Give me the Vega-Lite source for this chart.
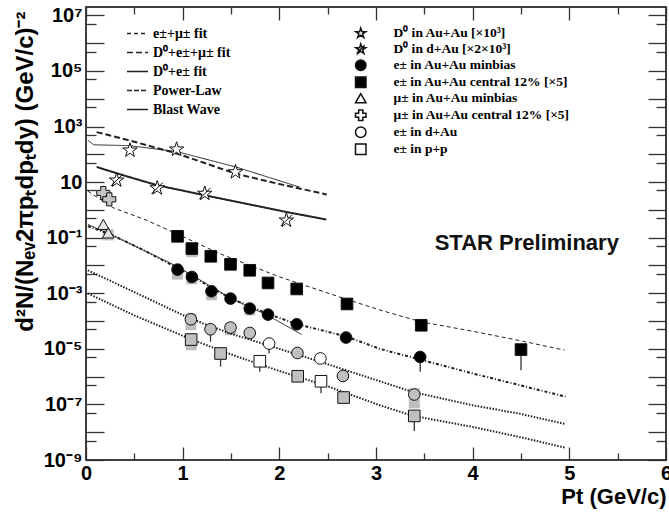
{
  "$schema": "https://vega.github.io/schema/vega-lite/v6.json",
  "width": 580,
  "height": 453,
  "autosize": {"type": "none"},
  "padding": {"left": 86, "top": 7, "right": 3, "bottom": 59},
  "background": "white",
  "datasets": {
    "points": [
      {"series": "D⁰ in Au+Au [×10³]", "pt": 0.455, "y": 139},
      {"series": "D⁰ in Au+Au [×10³]", "pt": 0.937, "y": 151},
      {"series": "D⁰ in Au+Au [×10³]", "pt": 1.546, "y": 23},
      {"series": "D⁰ in d+Au [×2×10³]", "pt": 0.317, "y": 11.6},
      {"series": "D⁰ in d+Au [×2×10³]", "pt": 0.737, "y": 6.1},
      {"series": "D⁰ in d+Au [×2×10³]", "pt": 1.229, "y": 3.86},
      {"series": "D⁰ in d+Au [×2×10³]", "pt": 2.073, "y": 0.42},
      {"series": "μ± in Au+Au central 12% [×5]", "pt": 0.179, "y": 4.06},
      {"series": "μ± in Au+Au central 12% [×5]", "pt": 0.241, "y": 2.4},
      {"series": "μ± in Au+Au minbias", "pt": 0.179, "y": 0.3},
      {"series": "μ± in Au+Au minbias", "pt": 0.23, "y": 0.148, "slo": 0.08, "shi": 0.2},
      {"series": "e± in Au+Au central 12% [×5]", "pt": 0.947, "y": 0.112},
      {"series": "e± in Au+Au central 12% [×5]", "pt": 1.095, "y": 0.0405, "slo": 0.02, "shi": 0.0405},
      {"series": "e± in Au+Au central 12% [×5]", "pt": 1.291, "y": 0.0214},
      {"series": "e± in Au+Au central 12% [×5]", "pt": 1.495, "y": 0.011},
      {"series": "e± in Au+Au central 12% [×5]", "pt": 1.694, "y": 0.00671},
      {"series": "e± in Au+Au central 12% [×5]", "pt": 1.883, "y": 0.00235},
      {"series": "e± in Au+Au central 12% [×5]", "pt": 2.18, "y": 0.00143},
      {"series": "e± in Au+Au central 12% [×5]", "pt": 2.7, "y": 0.000412},
      {"series": "e± in Au+Au central 12% [×5]", "pt": 3.468, "y": 0.0000706},
      {"series": "e± in Au+Au central 12% [×5]", "pt": 4.5, "y": 0.0000094, "lo": 0.0000017},
      {"series": "e± in Au+Au minbias", "pt": 0.947, "y": 0.0071, "slo": 0.0031, "shi": 0.0071},
      {"series": "e± in Au+Au minbias", "pt": 1.095, "y": 0.00386, "slo": 0.0021, "shi": 0.00386},
      {"series": "e± in Au+Au minbias", "pt": 1.298, "y": 0.00118, "slo": 0.00056, "shi": 0.00118},
      {"series": "e± in Au+Au minbias", "pt": 1.495, "y": 0.000644},
      {"series": "e± in Au+Au minbias", "pt": 1.694, "y": 0.000282, "slo": 0.00016, "shi": 0.000282},
      {"series": "e± in Au+Au minbias", "pt": 1.883, "y": 0.000171},
      {"series": "e± in Au+Au minbias", "pt": 2.18, "y": 0.0000767},
      {"series": "e± in Au+Au minbias", "pt": 2.69, "y": 0.0000255},
      {"series": "e± in Au+Au minbias", "pt": 3.457, "y": 0.0000051, "lo": 0.0000015},
      {"series": "e± in d+Au", "pt": 1.085, "y": 0.000116, "slo": 0.000047, "shi": 0.00019},
      {"series": "e± in d+Au", "pt": 1.288, "y": 0.0000507, "lo": 0.000018},
      {"series": "e± in d+Au", "pt": 1.495, "y": 0.0000583, "slo": 0.000031, "shi": 0.000083},
      {"series": "e± in d+Au", "pt": 1.694, "y": 0.0000373},
      {"series": "e± in d+Au", "pt": 1.894, "y": 0.0000155, "set": "b", "lo": 0.0000069},
      {"series": "e± in d+Au", "pt": 2.187, "y": 0.0000071},
      {"series": "e± in d+Au", "pt": 2.425, "y": 0.0000045, "set": "b"},
      {"series": "e± in d+Au", "pt": 2.658, "y": 0.00000106},
      {"series": "e± in d+Au", "pt": 3.396, "y": 0.000000227, "slo": 0.000000072, "shi": 0.00000038},
      {"series": "e± in p+p", "pt": 1.088, "y": 0.0000216, "slo": 0.0000089, "shi": 0.000031},
      {"series": "e± in p+p", "pt": 1.392, "y": 0.0000068, "lo": 0.0000023},
      {"series": "e± in p+p", "pt": 1.798, "y": 0.00000358, "set": "b", "lo": 0.0000015},
      {"series": "e± in p+p", "pt": 2.19, "y": 0.00000103},
      {"series": "e± in p+p", "pt": 2.431, "y": 0.00000068, "set": "b", "lo": 0.00000025},
      {"series": "e± in p+p", "pt": 2.665, "y": 0.000000177},
      {"series": "e± in p+p", "pt": 3.396, "y": 0.0000000386, "lo": 0.000000011}
    ],
    "curves": [
      {"curve": "A", "fit": "e±+μ± fit", "pt": 0.02, "y": 4.7},
      {"curve": "A", "fit": "e±+μ± fit", "pt": 0.28, "y": 1.2},
      {"curve": "A", "fit": "e±+μ± fit", "pt": 0.63, "y": 0.42},
      {"curve": "A", "fit": "e±+μ± fit", "pt": 1.0, "y": 0.11},
      {"curve": "A", "fit": "e±+μ± fit", "pt": 1.38, "y": 0.027},
      {"curve": "A", "fit": "e±+μ± fit", "pt": 2.0, "y": 0.0039},
      {"curve": "A", "fit": "e±+μ± fit", "pt": 2.7, "y": 0.0006},
      {"curve": "A", "fit": "e±+μ± fit", "pt": 3.04, "y": 0.00025},
      {"curve": "A", "fit": "e±+μ± fit", "pt": 3.47, "y": 0.000093},
      {"curve": "A", "fit": "e±+μ± fit", "pt": 4.0, "y": 0.000043},
      {"curve": "A", "fit": "e±+μ± fit", "pt": 4.48, "y": 0.00002},
      {"curve": "A", "fit": "e±+μ± fit", "pt": 4.95, "y": 0.000009},
      {"curve": "B", "fit": "D⁰+e±+μ± fit (e)", "pt": 0.02, "y": 0.26},
      {"curve": "B", "fit": "D⁰+e±+μ± fit (e)", "pt": 0.28, "y": 0.12},
      {"curve": "B", "fit": "D⁰+e±+μ± fit (e)", "pt": 0.6, "y": 0.035},
      {"curve": "B", "fit": "D⁰+e±+μ± fit (e)", "pt": 0.95, "y": 0.008},
      {"curve": "B", "fit": "D⁰+e±+μ± fit (e)", "pt": 1.3, "y": 0.0016},
      {"curve": "B", "fit": "D⁰+e±+μ± fit (e)", "pt": 1.5, "y": 0.00065},
      {"curve": "B", "fit": "D⁰+e±+μ± fit (e)", "pt": 1.9, "y": 0.00017},
      {"curve": "B", "fit": "D⁰+e±+μ± fit (e)", "pt": 2.2, "y": 0.000075},
      {"curve": "B", "fit": "D⁰+e±+μ± fit (e)", "pt": 2.69, "y": 0.000028},
      {"curve": "B", "fit": "D⁰+e±+μ± fit (e)", "pt": 3.04, "y": 0.00001},
      {"curve": "B", "fit": "D⁰+e±+μ± fit (e)", "pt": 3.47, "y": 0.000004},
      {"curve": "B", "fit": "D⁰+e±+μ± fit (e)", "pt": 4.0, "y": 0.0000013},
      {"curve": "B", "fit": "D⁰+e±+μ± fit (e)", "pt": 4.48, "y": 0.0000005},
      {"curve": "B", "fit": "D⁰+e±+μ± fit (e)", "pt": 4.96, "y": 0.00000019},
      {"curve": "C", "fit": "Blast Wave", "pt": 0.02, "y": 0.3},
      {"curve": "C", "fit": "Blast Wave", "pt": 0.3, "y": 0.11},
      {"curve": "C", "fit": "Blast Wave", "pt": 0.95, "y": 0.009},
      {"curve": "C", "fit": "Blast Wave", "pt": 1.5, "y": 0.00065},
      {"curve": "C", "fit": "Blast Wave", "pt": 1.88, "y": 0.00016},
      {"curve": "C", "fit": "Blast Wave", "pt": 2.23, "y": 0.000033},
      {"curve": "D", "fit": "D⁰+e± fit (e)", "pt": 0.02, "y": 0.0067},
      {"curve": "D", "fit": "D⁰+e± fit (e)", "pt": 0.5, "y": 0.0011},
      {"curve": "D", "fit": "D⁰+e± fit (e)", "pt": 1.085, "y": 0.00012},
      {"curve": "D", "fit": "D⁰+e± fit (e)", "pt": 1.5, "y": 0.000035},
      {"curve": "D", "fit": "D⁰+e± fit (e)", "pt": 2.0, "y": 0.00001},
      {"curve": "D", "fit": "D⁰+e± fit (e)", "pt": 2.5, "y": 0.0000028},
      {"curve": "D", "fit": "D⁰+e± fit (e)", "pt": 3.04, "y": 0.00000068},
      {"curve": "D", "fit": "D⁰+e± fit (e)", "pt": 3.38, "y": 0.00000028},
      {"curve": "D", "fit": "D⁰+e± fit (e)", "pt": 4.0, "y": 0.000000093},
      {"curve": "D", "fit": "D⁰+e± fit (e)", "pt": 4.48, "y": 0.000000047},
      {"curve": "D", "fit": "D⁰+e± fit (e)", "pt": 4.95, "y": 0.00000002},
      {"curve": "P", "fit": "D⁰+e± fit (e)", "pt": 0.02, "y": 0.00098},
      {"curve": "P", "fit": "D⁰+e± fit (e)", "pt": 0.5, "y": 0.00016},
      {"curve": "P", "fit": "D⁰+e± fit (e)", "pt": 1.088, "y": 0.000022},
      {"curve": "P", "fit": "D⁰+e± fit (e)", "pt": 1.5, "y": 0.0000063},
      {"curve": "P", "fit": "D⁰+e± fit (e)", "pt": 2.0, "y": 0.0000016},
      {"curve": "P", "fit": "D⁰+e± fit (e)", "pt": 2.5, "y": 0.00000045},
      {"curve": "P", "fit": "D⁰+e± fit (e)", "pt": 3.04, "y": 0.000000093},
      {"curve": "P", "fit": "D⁰+e± fit (e)", "pt": 3.38, "y": 0.000000039},
      {"curve": "P", "fit": "D⁰+e± fit (e)", "pt": 4.0, "y": 0.0000000155},
      {"curve": "P", "fit": "D⁰+e± fit (e)", "pt": 4.48, "y": 0.0000000068},
      {"curve": "P", "fit": "D⁰+e± fit (e)", "pt": 4.95, "y": 0.0000000028},
      {"curve": "E", "fit": "Blast Wave", "pt": 0.02, "y": 320},
      {"curve": "E", "fit": "Blast Wave", "pt": 0.08, "y": 220},
      {"curve": "E", "fit": "Blast Wave", "pt": 0.45, "y": 205},
      {"curve": "E", "fit": "Blast Wave", "pt": 0.94, "y": 125},
      {"curve": "E", "fit": "Blast Wave", "pt": 1.55, "y": 35},
      {"curve": "E", "fit": "Blast Wave", "pt": 2.21, "y": 6.6},
      {"curve": "F", "fit": "D⁰+e±+μ± fit", "pt": 0.11, "y": 630},
      {"curve": "F", "fit": "D⁰+e±+μ± fit", "pt": 0.45, "y": 316},
      {"curve": "F", "fit": "D⁰+e±+μ± fit", "pt": 0.94, "y": 107},
      {"curve": "F", "fit": "D⁰+e±+μ± fit", "pt": 1.55, "y": 20},
      {"curve": "F", "fit": "D⁰+e±+μ± fit", "pt": 2.0, "y": 8.5},
      {"curve": "F", "fit": "D⁰+e±+μ± fit", "pt": 2.49, "y": 3.6},
      {"curve": "G", "fit": "D⁰+e± fit", "pt": 0.11, "y": 35},
      {"curve": "G", "fit": "D⁰+e± fit", "pt": 0.4, "y": 17},
      {"curve": "G", "fit": "D⁰+e± fit", "pt": 0.737, "y": 7.7},
      {"curve": "G", "fit": "D⁰+e± fit", "pt": 1.23, "y": 3.35},
      {"curve": "G", "fit": "D⁰+e± fit", "pt": 2.073, "y": 0.84},
      {"curve": "G", "fit": "D⁰+e± fit", "pt": 2.487, "y": 0.45}
    ]
  },
  "config": {
    "view": {"stroke": "black", "strokeWidth": 1.5},
    "axis": {
      "domain": false,
      "grid": false,
      "tickColor": "#333",
      "tickWidth": 1.3,
      "labelFont": "Liberation Sans",
      "labelFontWeight": "bold",
      "labelFontSize": 20,
      "labelColor": "black",
      "labelFlush": false,
      "labelOverlap": false,
      "titleFont": "Liberation Sans",
      "titleFontWeight": "bold",
      "titleFontSize": 22,
      "titleColor": "black"
    }
  },
  "resolve": {
    "axis": {"x": "independent", "y": "independent"},
    "scale": {"shape": "independent", "fill": "independent"}
  },
  "layer": [
    {
      "data": {"name": "points"},
      "transform": [{"filter": "isValid(datum.slo)"}],
      "mark": {"type": "rule", "color": "#bdbdbd", "strokeWidth": 11},
      "encoding": {
        "x": {
          "field": "pt", "type": "quantitative",
          "scale": {"domain": [0, 6], "nice": false, "zero": false},
          "axis": {
            "orient": "bottom",
            "values": [0, 1, 2, 3, 4, 5, 6],
            "format": "d",
            "tickSize": -13,
            "labelPadding": 16,
            "title": "Pt (GeV/c)",
            "titleX": 580,
            "titleY": 36,
            "titleAlign": "right",
            "titleBaseline": "middle"
          }
        },
        "y": {
          "field": "slo", "type": "quantitative",
          "scale": {"type": "log", "domain": [1e-9, 2e7], "nice": false},
          "axis": {
            "orient": "left",
            "values": [1e-9, 1e-8, 1e-7, 1e-6, 1e-5, 1e-4, 1e-3, 1e-2, 1e-1, 1, 10, 100, 1000, 1e4, 1e5, 1e6, 1e7],
            "labelExpr": "round(log(datum.value)/LN10) == 7 ? '10⁷' : round(log(datum.value)/LN10) == 5 ? '10⁵' : round(log(datum.value)/LN10) == 3 ? '10³' : round(log(datum.value)/LN10) == 1 ? '10' : round(log(datum.value)/LN10) == -1 ? '10⁻¹' : round(log(datum.value)/LN10) == -3 ? '10⁻³' : round(log(datum.value)/LN10) == -5 ? '10⁻⁵' : round(log(datum.value)/LN10) == -7 ? '10⁻⁷' : round(log(datum.value)/LN10) == -9 ? '10⁻⁹' : ''",
            "tickSize": -18,
            "labelPadding": 22,
            "title": "d²N/(Nₑᵥ2πpₜdpₜdy) (GeV/c)⁻²",
            "titleFontSize": 24,
            "titleAngle": 270,
            "titleX": -61,
            "titleY": 4,
            "titleAlign": "right",
            "titleBaseline": "middle"
          }
        },
        "y2": {"field": "shi"}
      }
    },
    {
      "data": {"name": "curves"},
      "mark": {"type": "line", "color": "#222", "strokeCap": "butt"},
      "encoding": {
        "x": {
          "field": "pt", "type": "quantitative",
          "axis": {"orient": "bottom", "values": [0.5, 1.5, 2.5, 3.5, 4.5, 5.5], "labels": false, "title": null, "tickSize": -7}
        },
        "y": {
          "field": "y", "type": "quantitative",
          "axis": {"orient": "left", "values": [5e-9, 5e-8, 5e-7, 5e-6, 5e-5, 5e-4, 5e-3, 5e-2, 5e-1, 5, 50, 500, 5000, 5e4, 5e5, 5e6], "labels": false, "title": null, "tickSize": -10}
        },
        "detail": {"field": "curve", "type": "nominal"},
        "strokeWidth": {"condition": {"test": "datum.fit === 'e±+μ± fit' || datum.fit === 'Blast Wave'", "value": 1}, "value": 2},
        "strokeDash": {
          "field": "fit", "type": "nominal",
          "scale": {
            "domain": ["e±+μ± fit", "D⁰+e±+μ± fit", "D⁰+e± fit", "Power-Law", "Blast Wave", "D⁰+e±+μ± fit (e)", "D⁰+e± fit (e)"],
            "range": [[4, 3], [6, 3], [1, 0], [5, 2], [1, 0], [3, 2, 1, 2], [1.5, 1.5]]
          },
          "legend": {
            "title": null,
            "orient": "none",
            "legendX": 40,
            "legendY": 15,
            "padding": 0,
            "values": ["e±+μ± fit", "D⁰+e±+μ± fit", "D⁰+e± fit", "Power-Law", "Blast Wave"],
            "symbolType": "stroke",
            "symbolSize": 441,
            "symbolStrokeColor": "#222",
            "symbolStrokeWidth": 1.6,
            "labelFont": "Liberation Serif",
            "labelFontWeight": "bold",
            "labelFontSize": 14,
            "labelColor": "black",
            "labelLimit": 0,
            "labelOffset": 4,
            "rowPadding": 0
          }
        }
      }
    },
    {
      "data": {"name": "points"},
      "transform": [{"filter": "isValid(datum.lo)"}],
      "mark": {"type": "rule", "color": "#333", "strokeWidth": 1.3},
      "encoding": {
        "x": {
          "field": "pt", "type": "quantitative",
          "axis": {"orient": "top", "values": [0, 1, 2, 3, 4, 5, 6], "labels": false, "title": null, "tickSize": -13}
        },
        "y": {
          "field": "y", "type": "quantitative",
          "axis": {"orient": "right", "values": [1e-9, 1e-8, 1e-7, 1e-6, 1e-5, 1e-4, 1e-3, 1e-2, 1e-1, 1, 10, 100, 1000, 1e4, 1e5, 1e6, 1e7], "labels": false, "title": null, "tickSize": -18}
        },
        "y2": {"field": "lo"}
      }
    },
    {
      "data": {"name": "points"},
      "mark": {"type": "point", "filled": true, "stroke": "#111", "strokeWidth": 1, "opacity": 1},
      "encoding": {
        "x": {
          "field": "pt", "type": "quantitative",
          "axis": {"orient": "top", "values": [0.5, 1.5, 2.5, 3.5, 4.5, 5.5], "labels": false, "title": null, "tickSize": -7}
        },
        "y": {
          "field": "y", "type": "quantitative",
          "axis": {"orient": "right", "values": [5e-9, 5e-8, 5e-7, 5e-6, 5e-5, 5e-4, 5e-3, 5e-2, 5e-1, 5, 50, 500, 5000, 5e4, 5e5, 5e6], "labels": false, "title": null, "tickSize": -10}
        },
        "shape": {
          "field": "series", "type": "nominal",
          "scale": {
            "domain": ["D⁰ in Au+Au [×10³]", "D⁰ in d+Au [×2×10³]", "e± in Au+Au minbias", "e± in Au+Au central 12% [×5]", "μ± in Au+Au minbias", "μ± in Au+Au central 12% [×5]", "e± in d+Au", "e± in p+p"],
            "range": [
              "M0,-1L0.2245,-0.309L0.951,-0.309L0.363,0.118L0.588,0.809L0,0.382L-0.588,0.809L-0.363,0.118L-0.951,-0.309L-0.2245,-0.309Z",
              "M0,-1L0.2245,-0.309L0.951,-0.309L0.363,0.118L0.588,0.809L0,0.382L-0.588,0.809L-0.363,0.118L-0.951,-0.309L-0.2245,-0.309Z M-0.75,0.75L0.75,-0.75",
              "circle", "square", "triangle-up", "cross", "circle", "square"
            ]
          },
          "legend": null
        },
        "fill": {
          "condition": {"test": "datum.set === 'b'", "value": "white"},
          "field": "series", "type": "nominal",
          "scale": {
            "domain": ["D⁰ in Au+Au [×10³]", "D⁰ in d+Au [×2×10³]", "e± in Au+Au minbias", "e± in Au+Au central 12% [×5]", "μ± in Au+Au minbias", "μ± in Au+Au central 12% [×5]", "e± in d+Au", "e± in p+p"],
            "range": ["white", "white", "black", "black", "#e6e6e6", "#c4c4c4", "#c0c0c0", "#c0c0c0"]
          },
          "legend": null
        },
        "size": {
          "condition": [
            {"test": "indexof(['D⁰ in Au+Au [×10³]', 'D⁰ in d+Au [×2×10³]'], datum.series) >= 0", "value": 230},
            {"test": "datum.series === 'μ± in Au+Au central 12% [×5]'", "value": 170}
          ],
          "value": 135
        }
      }
    },
    {
      "data": {"name": "points"},
      "transform": [{"filter": "false"}],
      "mark": {"type": "point", "filled": true, "stroke": "#111", "strokeWidth": 1, "opacity": 1},
      "encoding": {
        "shape": {
          "field": "series", "type": "nominal",
          "scale": {
            "domain": ["D⁰ in Au+Au [×10³]", "D⁰ in d+Au [×2×10³]", "e± in Au+Au minbias", "e± in Au+Au central 12% [×5]", "μ± in Au+Au minbias", "μ± in Au+Au central 12% [×5]", "e± in d+Au", "e± in p+p"],
            "range": [
              "M0,-1L0.2245,-0.309L0.951,-0.309L0.363,0.118L0.588,0.809L0,0.382L-0.588,0.809L-0.363,0.118L-0.951,-0.309L-0.2245,-0.309Z",
              "M0,-1L0.2245,-0.309L0.951,-0.309L0.363,0.118L0.588,0.809L0,0.382L-0.588,0.809L-0.363,0.118L-0.951,-0.309L-0.2245,-0.309Z M-0.75,0.75L0.75,-0.75",
              "circle", "square", "triangle-up", "cross", "circle", "square"
            ]
          },
          "legend": {
            "title": null,
            "orient": "none",
            "legendX": 268,
            "legendY": 19.5,
            "padding": 0,
            "symbolSize": 110,
            "labelFont": "Liberation Serif",
            "labelFontWeight": "bold",
            "labelFontSize": 13.5,
            "labelColor": "black",
            "labelLimit": 0,
            "labelOffset": 26,
            "rowPadding": 0
          }
        },
        "fill": {
          "field": "series", "type": "nominal",
          "scale": {
            "domain": ["D⁰ in Au+Au [×10³]", "D⁰ in d+Au [×2×10³]", "e± in Au+Au minbias", "e± in Au+Au central 12% [×5]", "μ± in Au+Au minbias", "μ± in Au+Au central 12% [×5]", "e± in d+Au", "e± in p+p"],
            "range": ["white", "white", "black", "black", "white", "white", "white", "white"]
          },
          "legend": {
            "title": null,
            "orient": "none",
            "legendX": 268,
            "legendY": 19.5,
            "padding": 0,
            "symbolSize": 110,
            "labelFont": "Liberation Serif",
            "labelFontWeight": "bold",
            "labelFontSize": 13.5,
            "labelColor": "black",
            "labelLimit": 0,
            "labelOffset": 26,
            "rowPadding": 0
          }
        }
      }
    },
    {
      "data": {"values": [{}]},
      "mark": {"type": "text", "text": "STAR Preliminary", "font": "Liberation Sans", "fontWeight": "bold", "fontSize": 22, "align": "center", "baseline": "middle", "color": "#111"},
      "encoding": {
        "x": {"datum": 4.56, "type": "quantitative", "axis": null},
        "y": {"datum": 0.063, "type": "quantitative", "axis": null}
      }
    }
  ]
}
